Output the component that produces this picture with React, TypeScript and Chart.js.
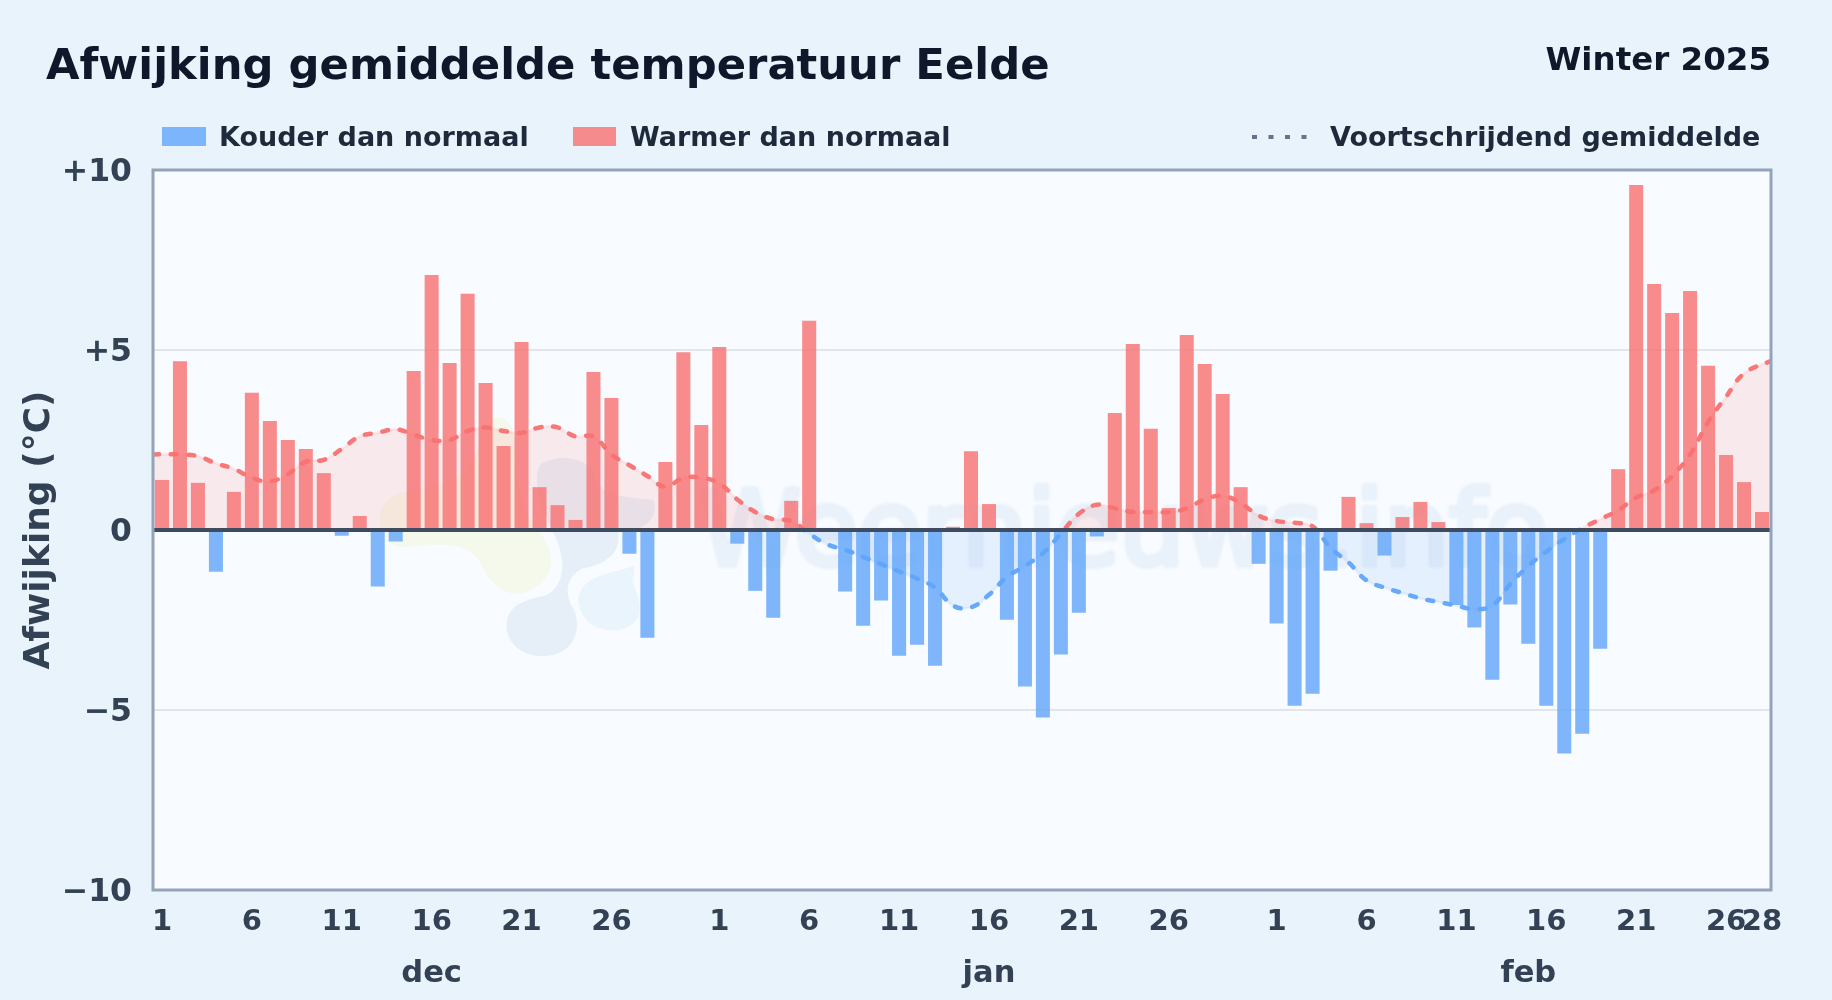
import React, { useEffect, useRef } from "react";
import { Chart, registerables } from "chart.js";

Chart.register(...registerables);

const dayLabels = [
  1,2,3,4,5,6,7,8,9,10,11,12,13,14,15,16,17,18,19,20,21,22,23,24,25,26,27,28,29,30,31,
  1,2,3,4,5,6,7,8,9,10,11,12,13,14,15,16,17,18,19,20,21,22,23,24,25,26,27,28,29,30,31,
  1,2,3,4,5,6,7,8,9,10,11,12,13,14,15,16,17,18,19,20,21,22,23,24,25,26,27,28,
];
const decDeviation = [1.39,4.69,1.31,-1.16,1.06,3.81,3.03,2.5,2.25,1.58,-0.16,0.39,-1.57,-0.32,4.42,7.08,4.64,6.56,4.08,2.33,5.22,1.19,0.69,0.28,4.39,3.67,-0.66,-2.99,1.89,4.94,2.92];
const janDeviation = [5.08,-0.38,-1.69,-2.44,0.81,5.81,0,-1.71,-2.66,-1.96,-3.49,-3.19,-3.77,0.09,2.19,0.72,-2.49,-4.35,-5.21,-3.46,-2.3,-0.18,3.25,5.17,2.81,0.61,5.42,4.61,3.78,1.19,-0.94];
const febDeviation = [-2.6,-4.88,-4.55,-1.13,0.92,0.19,-0.71,0.36,0.78,0.22,-2.08,-2.71,-4.16,-2.07,-3.16,-4.88,-6.21,-5.66,-3.3,1.69,9.58,6.83,6.03,6.64,4.56,2.08,1.33,0.5];
const deviations = [...decDeviation, ...janDeviation, ...febDeviation];

const decRolling = [2.1,2.1,2.05,1.85,1.7,1.45,1.35,1.55,1.9,1.95,2.25,2.6,2.7,2.8,2.65,2.5,2.5,2.75,2.85,2.75,2.7,2.85,2.85,2.6,2.6,2.1,1.8,1.5,1.2,1.45,1.45];
const janRolling = [1.3,0.85,0.5,0.3,0.25,-0.1,-0.4,-0.55,-0.75,-0.95,-1.15,-1.35,-1.6,-2.1,-2.15,-1.8,-1.3,-1.0,-0.65,-0.1,0.45,0.7,0.6,0.5,0.5,0.5,0.6,0.85,0.95,0.75,0.4];
const febRolling = [0.25,0.2,0.1,-0.5,-0.9,-1.4,-1.6,-1.75,-1.9,-2.0,-2.1,-2.2,-2.1,-1.5,-1.0,-0.6,-0.25,0.05,0.3,0.55,0.9,1.1,1.5,2.1,3.0,3.7,4.35,4.7];
const rolling = [...decRolling, ...janRolling, ...febRolling];

const monthNames = ["dec", "jan", "feb"];
const monthTickIndex = [15, 46, 76];
const yTickLabels: Record<string, string> = { "10": "+10", "5": "+5", "0": "0", "-5": "\u22125", "-10": "\u221210" };

const FONT = "'DejaVu Sans'";

const rollingPoints = rolling.map((y, i) => ({
  x: i === 0 ? -0.5 : i === rolling.length - 1 ? rolling.length - 0.5 : i,
  y,
}));

function zeroSplit(ctx: any, above: string, below: string) {
  const { chart } = ctx;
  const area = chart.chartArea;
  if (!area) return above;
  const y0 = chart.scales.y.getPixelForValue(0);
  const t = (y0 - area.top) / (area.bottom - area.top);
  const g = chart.ctx.createLinearGradient(0, area.top, 0, area.bottom);
  g.addColorStop(0, above);
  g.addColorStop(t, above);
  g.addColorStop(t, below);
  g.addColorStop(1, below);
  return g;
}

function logoShape(ctx: any, fill: string, pts: number[][]) {
  ctx.fillStyle = fill;
  ctx.beginPath();
  ctx.moveTo(pts[0][0], pts[0][1]);
  for (let i = 1; i < pts.length; i++) {
    const [a, b, c, d, e, f] = pts[i];
    ctx.bezierCurveTo(a, b, c, d, e, f);
  }
  ctx.closePath();
  ctx.fill();
}

const backdrop = {
  id: "backdrop",
  beforeDraw(chart: any) {
    const { ctx, width, height, chartArea: a } = chart;
    ctx.save();
    ctx.fillStyle = "#e9f3fc";
    ctx.fillRect(0, 0, width, height);
    ctx.fillStyle = "#f8fbff";
    ctx.fillRect(a.left, a.top, a.right - a.left, a.bottom - a.top);

    // watermark logo
    ctx.save();
    ctx.translate(360, 400);
    ctx.scale(1 / 3, 1 / 3);
    logoShape(ctx, "#f5f9ec", [
      [60, 340],
      [70, 290, 130, 270, 200, 260],
      [280, 250, 340, 220, 360, 120],
      [375, 40, 440, 20, 465, 110],
      [470, 200, 470, 320, 540, 400],
      [590, 460, 590, 540, 500, 575],
      [430, 600, 385, 540, 355, 480],
      [320, 425, 240, 430, 130, 442],
      [80, 440, 55, 390, 60, 340],
    ]);
    logoShape(ctx, "#e6eff8", [
      [440, 670],
      [445, 610, 500, 600, 560, 585],
      [610, 560, 620, 490, 590, 420],
      [560, 350, 510, 250, 540, 195],
      [590, 160, 680, 170, 700, 220],
      [720, 290, 780, 290, 880, 300],
      [900, 350, 850, 400, 775, 395],
      [785, 470, 720, 495, 670, 505],
      [620, 525, 610, 580, 640, 625],
      [670, 690, 640, 770, 545, 768],
      [480, 770, 435, 720, 440, 670],
    ]);
    logoShape(ctx, "#eaf4fd", [
      [655, 600],
      [660, 540, 720, 525, 800, 505],
      [820, 495, 830, 490, 820, 530],
      [815, 560, 850, 600, 835, 650],
      [810, 700, 720, 705, 680, 660],
      [665, 640, 655, 620, 655, 600],
    ]);
    ctx.restore();

    ctx.translate(a.left, a.top);
    ctx.font = `normal 103px ${FONT}`;
    ctx.textAlign = "left";
    ctx.textBaseline = "alphabetic";
    ctx.filter = "blur(1.2px)";
    ctx.fillStyle = "#e9f1fa";
    ctx.strokeStyle = "#e9f1fa";
    ctx.lineWidth = 6;
    ctx.lineJoin = "round";
    ctx.strokeText("Weernieuws.info", 546, 395);
    ctx.fillText("Weernieuws.info", 546, 395);
    ctx.filter = "none";
    ctx.restore();
  },
};

const overlay = {
  id: "overlay",
  afterDatasetsDraw(chart: any) {
    const { ctx, chartArea: a, scales } = chart;
    ctx.save();
    const y0 = scales.y.getPixelForValue(0);
    ctx.strokeStyle = "#3f4c60";
    ctx.lineWidth = 4;
    ctx.beginPath();
    ctx.moveTo(a.left, y0);
    ctx.lineTo(a.right, y0);
    ctx.stroke();
    ctx.strokeStyle = "#94a3b8";
    ctx.lineWidth = 3;
    ctx.strokeRect(a.left, a.top, a.right - a.left, a.bottom - a.top);
    ctx.restore();
  },
  afterDraw(chart: any) {
    const { ctx } = chart;
    ctx.save();
    ctx.textBaseline = "alphabetic";
    ctx.textAlign = "left";
    ctx.fillStyle = "#0f172a";
    ctx.font = `bold 43.3px ${FONT}`;
    ctx.fillText("Afwijking gemiddelde temperatuur Eelde", 46, 79);
    ctx.textAlign = "right";
    ctx.font = `bold 32.5px ${FONT}`;
    ctx.fillText("Winter 2025", 1771, 70);

    ctx.textAlign = "left";
    ctx.font = `bold 27px ${FONT}`;
    ctx.fillStyle = "rgba(96,165,250,0.8)";
    ctx.fillRect(162, 127, 44, 19);
    ctx.fillStyle = "rgba(248,113,113,0.8)";
    ctx.fillRect(573, 127, 43, 19);
    ctx.fillStyle = "#1e293b";
    ctx.fillText("Kouder dan normaal", 219, 146);
    ctx.fillText("Warmer dan normaal", 630, 146);
    ctx.fillText("Voortschrijdend gemiddelde", 1330, 146);
    ctx.strokeStyle = "#64748b";
    ctx.lineWidth = 4;
    ctx.setLineDash([5, 11.5]);
    ctx.beginPath();
    ctx.moveTo(1252, 137);
    ctx.lineTo(1308, 137);
    ctx.stroke();
    ctx.restore();
  },
};

export default function App() {
  const ref = useRef<HTMLCanvasElement>(null);
  useEffect(() => {
    document.body.style.margin = "0";
    const chart = new Chart(ref.current as HTMLCanvasElement, {
      type: "bar",
      data: {
        labels: dayLabels.map(String),
        datasets: [
          {
            type: "line",
            label: "Vlak",
            data: rollingPoints,
            xAxisID: "x2",
            order: 3,
            tension: 0.4,
            pointRadius: 0,
            borderWidth: 3,
            borderColor: (c: any) => zeroSplit(c, "rgba(248,113,113,0.1)", "rgba(96,165,250,0.1)"),
            fill: { target: "origin", above: "rgba(248,113,113,0.13)", below: "rgba(96,165,250,0.12)" },
          },
          {
            type: "bar",
            label: "Afwijking",
            data: deviations,
            order: 2,
            grouped: false,
            barPercentage: 0.78,
            categoryPercentage: 1,
            backgroundColor: (c: any) => ((c.raw ?? 0) >= 0 ? "rgba(248,113,113,0.8)" : "rgba(96,165,250,0.8)"),
          },
          {
            type: "line",
            label: "Voortschrijdend gemiddelde",
            data: rollingPoints,
            xAxisID: "x2",
            order: 1,
            tension: 0.4,
            pointRadius: 0,
            borderWidth: 4.5,
            borderDash: [6, 11.7],
            borderCapStyle: "round",
            borderColor: (c: any) => zeroSplit(c, "rgba(248,113,113,0.95)", "rgba(96,165,250,0.95)"),
            fill: false,
          },
        ],
      } as any,
      options: {
        responsive: false,
        animation: false,
        devicePixelRatio: 1,
        layout: { padding: { top: 170, right: 61, left: 0, bottom: 0 } },
        plugins: { legend: { display: false }, title: { display: false }, tooltip: { enabled: false } },
        scales: {
          x: {
            type: "category",
            position: "bottom",
            offset: true,
            grid: { display: false },
            border: { display: false },
            afterFit: (s: any) => { s.height = 50; },
            ticks: {
              autoSkip: false,
              maxRotation: 0,
              padding: 7,
              color: "#334155",
              font: { family: FONT, weight: "bold", size: 29 },
              callback: (_v: any, i: number) => {
                const d = dayLabels[i];
                return ((d - 1) % 5 === 0 && d !== 31) || i === dayLabels.length - 1 ? String(d) : "";
              },
            },
          },
          x2: {
            type: "linear",
            position: "bottom",
            offset: false,
            min: -0.5,
            max: dayLabels.length - 0.5,
            grid: { display: false },
            border: { display: false },
            afterFit: (s: any) => { s.height = 60; },
            afterBuildTicks: (s: any) => { s.ticks = monthTickIndex.map((value) => ({ value })); },
            ticks: {
              autoSkip: false,
              maxRotation: 0,
              padding: 8,
              color: "#334155",
              font: { family: FONT, weight: "bold", size: 30.5 },
              callback: (v: any) => monthNames[monthTickIndex.indexOf(v)],
            },
          },
          y: {
            min: -10,
            max: 10,
            afterFit: (s: any) => { s.width = 153; },
            grid: {
              color: (c: any) => (Math.abs(c.tick.value) === 5 ? "#e2e6ea" : "transparent"),
              lineWidth: 2,
              drawTicks: false,
            },
            border: { display: false },
            title: {
              display: true,
              text: "Afwijking (\u00b0C)",
              color: "#334155",
              padding: { top: 18, bottom: 0 },
              font: { family: FONT, weight: "bold", size: 36 },
            },
            ticks: {
              stepSize: 5,
              padding: 21,
              labelOffset: 2.5,
              color: "#334155",
              font: { family: FONT, weight: "bold", size: 31.5 },
              callback: (v: any) => yTickLabels[String(v)],
            },
          },
        },
      },
      plugins: [backdrop, overlay],
    } as any);
    return () => chart.destroy();
  }, []);
  return <canvas ref={ref} width={1832} height={1000} style={{ display: "block", width: 1832, height: 1000 }} />;
}
